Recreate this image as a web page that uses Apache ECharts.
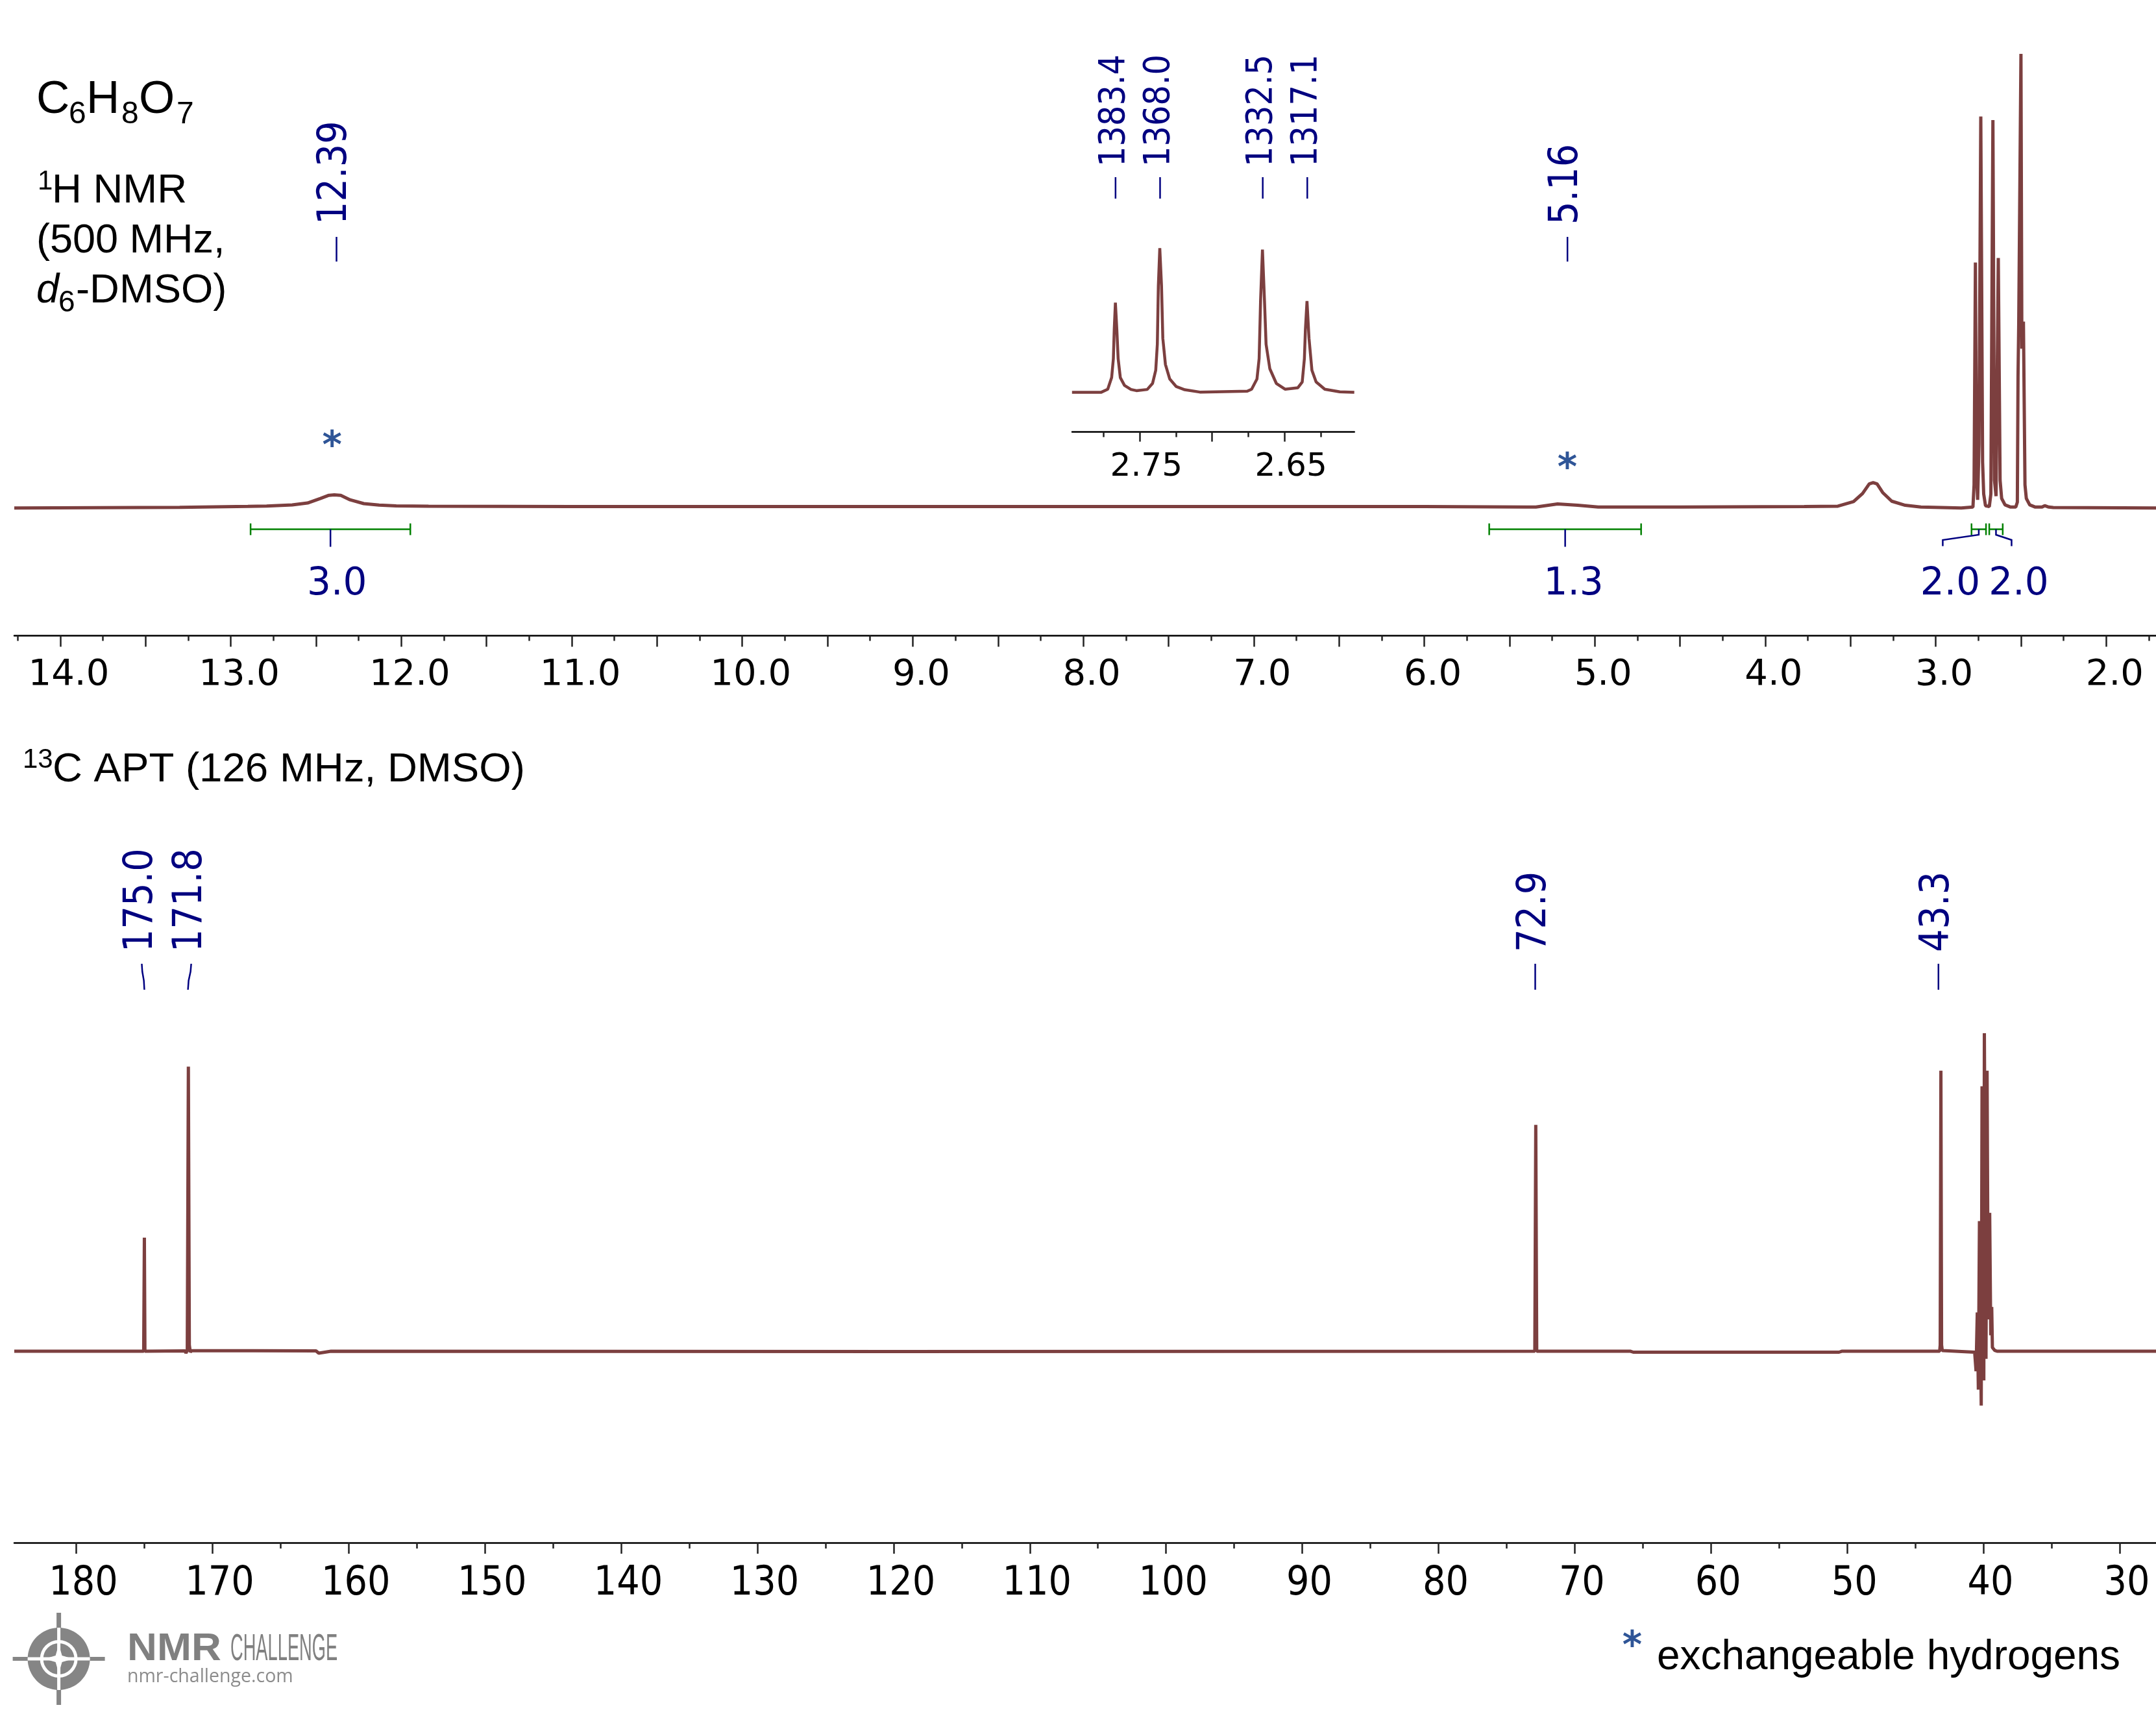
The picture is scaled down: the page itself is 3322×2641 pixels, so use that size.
<!DOCTYPE html>
<html>
<head>
<meta charset="utf-8">
<title>C6H8O7 NMR</title>
<style>
  html, body { margin: 0; padding: 0; background: #fff; }
  #echart { width: 3322px; height: 2641px; }
</style>
<script src="https://cdn.jsdelivr.net/npm/echarts@6/dist/echarts.min.js"></script>
</head>
<body>
<div id="echart"></div>
<script>
// 1H spectrum (ppm / intensity, DMSO = 100)
var hPpm = [14.27,13.3,12.9,12.79,12.64,12.55,12.475,12.425,12.393,12.355,12.30,12.22,12.13,12.03,11.84,
  11,8,6,5.4,5.345,5.218,5.1,4.98,4.5,3.771,
  3.574,3.482,3.429,3.390,3.367,3.344,3.311,3.258,3.179,3.087,
  2.85,2.7817,2.7751,2.7672,2.7607,2.7541,2.7462,2.7357,2.7251,2.7186,
  2.7081,2.6857,2.6765,2.6646,2.6554,2.6462,2.6330,2.6225,2.6133,2.5936,
  2.5607,2.5304,2.5212,2.5172,2.5133,2.5001,2.4948,2.4856,2.4765,2.4686,
  2.4489,2.416,2.3765,2.3607,2.337,2.3106,1.708];
var hIntensity = [-0.1,0.05,0.25,0.33,0.57,1,2,2.7,2.8,2.7,1.7,0.86,0.53,0.35,0.3,
  0.2,0.2,0.2,0.1,0.1,0.8,0.5,0.1,0.1,0.2,
  0.3,1.3,3.1,5.2,5.5,5.2,3.3,1.4,0.5,0.1,
  -0.1,0.1,5,54,8,1.7,14,86.2,10,3,
  0.4,0.2,3,85.4,6,2.5,55,6,2,0.6,
  0.1,0.1,1.2,29,40,100,35,41,5,2,
  0.6,0.1,0.1,0.4,0.1,0,-0.1];

// inset, the two doublets
var insetPpm = [2.7969,2.7769,2.7722,2.7695,2.7683,2.7677,2.7669,2.7659,2.7650,2.7635,2.7606,2.7561,2.7524,
  2.7449,2.7412,2.7390,2.7379,2.7372,2.7362,2.7350,2.7341,2.7323,2.7293,2.7248,2.7189,2.7085,
  2.6757,2.6727,2.6690,2.6675,2.6665,2.6652,2.6638,2.6627,2.6601,2.6556,2.6496,
  2.6407,2.6377,2.6362,2.6355,2.6344,2.6330,2.6310,2.6281,2.6221,2.6117,2.6017];
var insetIntensity = [0,0,2.2,10.2,23.3,43.4,62,43.4,23.3,10.2,4.8,2,1.2,
  2,6.2,15.3,33.3,73.5,99.6,73.5,37.3,19.3,9.2,4,1.8,0.2,
  0.8,2.2,9.2,23.3,63.5,98.6,63.5,33.3,16.3,6.2,2.2,
  3.2,7.2,23.3,43.4,63.1,37.3,15.3,7.2,2.2,0.4,0];

// 13C APT, DMSO = 100 (septet swings negative)
var cPpm = [184.55,175.15,175.1,175.05,175.0,174.96,174.9,172.0,171.95,171.85,171.77,171.7,171.63,171.55,
  162.4,162.2,161.3,120,72.93,72.86,72.79,65.9,65.7,50.6,50.4,43.21,43.17,43.12,43.07,43.02,
  40.64,40.54,40.45,40.37,40.29,40.16,40.10,39.97,39.93,39.81,39.73,39.65,39.54,39.46,39.39,39.34,39.18,39.0,27.33];
var cIntensity = [0,0,-0.4,0,35.7,0,0.1,0.1,-0.6,0.3,89.5,2,-0.3,0.2,
  0.1,-0.6,0,-0.1,0,71.2,0,0,-0.3,-0.3,0,0,2,88.2,2,0.2,
  -0.3,-6.3,12.2,-12.1,40.9,-17.1,83.3,-9.2,100,-2.4,88.2,10,43.5,5,13.9,1.2,0.3,0,0];

// axis ticks
var hMajorTicks = [14,13.5,13,12.5,12,11.5,11,10.5,10,9.5,9,8.5,8,7.5,7,6.5,6,5.5,5,4.5,4,3.5,3,2.5,2];
var hMinorTicks = [14.25,13.75,13.25,12.75,12.25,11.75,11.25,10.75,10.25,9.75,9.25,8.75,8.25,7.75,7.25,6.75,6.25,5.75,5.25,4.75,4.25,3.75,3.25,2.75,2.25,1.75];
var hTickLabels = [14,13,12,11,10,9,8,7,6,5,4,3,2];
var insetMajorTicks = [2.75,2.70,2.65];
var insetMinorTicks = [2.775,2.725,2.675,2.625];
var insetTickLabels = [2.75,2.65];
var cMajorTicks = [180,170,160,150,140,130,120,110,100,90,80,70,60,50,40,30];
var cMinorTicks = [175,165,155,145,135,125,115,105,95,85,75,65,55,45,35];

// peak picks and integrals
var hPickPpm = [12.38,5.16];
var hPickLabels = ['12.39','5.16'];
var hzPickPpm = [2.7668,2.736,2.665,2.6342];
var hzPickLabels = ['1383.4','1368.0','1332.5','1317.1'];
var cPickPpm = [175.0,171.8,72.9,43.3];
var cPickLabels = ['175.0','171.8','72.9','43.3'];
var integralFrom = [12.884,5.619,2.790,2.686];
var integralTo = [11.947,4.728,2.705,2.607];
var integralLabels = ['3.0','1.3','2.0','2.0'];

var SPEC = '#7c3f3f', NAVY = '#000080', GREEN = '#008000', STAR = '#2f5597', GREY = '#858585';
var ARIAL = '"Liberation Sans"', COND = '"DejaVu Sans Condensed","DejaVu Sans"', DEJA = '"DejaVu Sans"';

function zip(xs, ys) {
  return xs.map(function(x, i) { return [x, ys[i]]; });
}

// text placed by its baseline
function txt(str, x, base, size, family, fill, extra) {
  var style = { text: str, font: (extra && extra.font || '') + ' ' + size + 'px ' + family, fill: fill || '#000',
    align: extra && extra.align || 'left', verticalAlign: 'middle' };
  return { type: 'text', silent: true, x: x, y: base - 0.29 * size, scaleX: extra && extra.scaleX || 1, style: style };
}

function xAxisOf(grid, min, max, major, labels, fmt, opt) {
  return {
    type: 'value', gridIndex: grid, position: 'bottom', inverse: true, min: min, max: max,
    splitLine: { show: false },
    axisLine: { onZero: false, lineStyle: { color: '#000', width: 2.5 } },
    axisTick: { show: true, customValues: major, length: opt.len, lineStyle: { color: '#222', width: 2.5 } },
    axisLabel: { show: true, customValues: labels, formatter: fmt, margin: opt.margin, color: '#000', fontFamily: opt.family,
      fontSize: opt.size, padding: [0, 0, 0, opt.shift * 2], hideOverlap: false }
  };
}
function minorAxisOf(grid, min, max, ticks, len) {
  return {
    type: 'value', gridIndex: grid, position: 'bottom', inverse: true, min: min, max: max,
    splitLine: { show: false },
    axisLine: { show: false, onZero: false },
    axisTick: { show: true, customValues: ticks, length: len, lineStyle: { color: '#222', width: 2.5 } },
    axisLabel: { show: false }
  };
}
function yAxisOf(grid, min, max) {
  return { type: 'value', gridIndex: grid, min: min, max: max, show: false };
}
function specLine(xi, yi, data, w, smooth) {
  return { type: 'line', xAxisIndex: xi, yAxisIndex: yi, data: data, showSymbol: false, symbol: 'none', sampling: null,
    smooth: smooth, silent: true, clip: false, lineStyle: { color: SPEC, width: w, join: 'bevel' } };
}

// rotated peak labels with their small ticks; bend = shift of the tick's upper end
function pickSeries(xi, yi, ppm, labels, cfg) {
  return {
    type: 'custom', xAxisIndex: xi, yAxisIndex: yi, silent: true, clip: false,
    data: zip(ppm, ppm.map(function() { return 0; })), encode: { x: 0, y: 1 },
    renderItem: function(params, api) {
      var i = params.dataIndex;
      var x = api.coord([api.value(0), 0])[0];
      var bend = cfg.bend ? cfg.bend[i] : 0;
      var pts = bend ? [[x + bend, cfg.y1], [x + bend * 0.8, cfg.y1 + 12], [x + bend * 0.2, cfg.y2 - 14], [x, cfg.y2]]
                     : [[x, cfg.y1], [x, cfg.y2]];
      return { type: 'group', children: [
        { type: 'polyline', shape: { points: pts }, style: { stroke: NAVY, lineWidth: 2.5, fill: null } },
        { type: 'text', x: x + bend + cfg.dx, y: cfg.textBottom, rotation: Math.PI / 2,
          style: { text: labels[i], font: cfg.size + 'px ' + COND, fill: NAVY, align: 'left', verticalAlign: 'middle' } }
      ] };
    }
  };
}

// link from the green integral bar down to its number, dx in px from the bar centre
var integralLink = [0, 0, -55.5, 24];
var integralText = [10, 13, -44, 35];
var integralSeries = {
  type: 'custom', xAxisIndex: 0, yAxisIndex: 0, silent: true, clip: false,
  data: integralFrom.map(function(f, i) { return [f, integralTo[i], 0]; }), encode: { x: [0, 1], y: 2 },
  renderItem: function(params, api) {
    var i = params.dataIndex;
    var a = api.coord([api.value(0), 0])[0], b = api.coord([api.value(1), 0])[0];
    var c = (a + b) / 2, dx = integralLink[i], y = 815.5;
    var green = { stroke: GREEN, lineWidth: 2.5, fill: null }, navy = { stroke: NAVY, lineWidth: 2.5, fill: null };
    var link = dx ? [[c, y], [c, y + 8.5], [c + dx, y + 16.5], [c + dx, y + 26]] : [[c, y], [c, y + 27]];
    return { type: 'group', children: [
      { type: 'line', shape: { x1: a, y1: y, x2: b, y2: y }, style: green },
      { type: 'line', shape: { x1: a, y1: y - 9, x2: a, y2: y + 9 }, style: green },
      { type: 'line', shape: { x1: b, y1: y - 9, x2: b, y2: y + 9 }, style: green },
      { type: 'polyline', shape: { points: link }, style: navy },
      txt(integralLabels[i], c + integralText[i], 918, 58, DEJA, NAVY, { align: 'center' })
    ] };
  }
};

// logo built from plain shapes
var lx = 90.6, ly = 2556;
function rect(x, y, w, h, fill) {
  return { type: 'rect', silent: true, shape: { x: x, y: y, width: w, height: h }, style: { fill: fill } };
}
function disc(r, fill) {
  return { type: 'circle', silent: true, shape: { cx: lx, cy: ly, r: r }, style: { fill: fill } };
}
var logo = [
  rect(19.6, ly - 3, 142, 6, GREY), rect(lx - 3.5, 2485, 7, 142, GREY),
  disc(48, GREY), disc(29, '#fff'), disc(24, GREY),
  rect(lx - 48, ly - 2.5, 96, 5, '#fff'), rect(lx - 2.5, ly - 48, 5, 96, '#fff'),
  { type: 'polygon', silent: true, style: { fill: '#fff' }, shape: { points: [[lx, ly - 22], [lx + 5, ly - 5], [lx + 22, ly], [lx + 5, ly + 5],
    [lx, ly + 22], [lx - 5, ly + 5], [lx - 22, ly], [lx - 5, ly - 5]] } },
  txt('NMR', 196, 2559, 60, ARIAL, '#808080', { font: 'bold', scaleX: 1.06 }),
  txt('CHALLENGE', 355, 2559, 58, ARIAL, '#808080', { scaleX: 0.47 }),
  txt('nmr-challenge.com', 196, 2592, 28.5, '"Open Sans"', '#8c8c8c')
];

var notes = [
  txt('C', 56, 175, 71, ARIAL), txt('6', 106, 191, 48, ARIAL), txt('H', 133, 175, 71, ARIAL),
  txt('8', 187, 191, 48, ARIAL), txt('O', 214, 175, 71, ARIAL), txt('7', 272, 191, 48, ARIAL),
  txt('1', 58, 293, 42, ARIAL), txt('H NMR', 80, 312.5, 63.5, ARIAL),
  txt('(500 MHz,', 56, 389.5, 63, ARIAL),
  txt('d', 56, 466.5, 63, ARIAL, '#000', { font: 'italic' }), txt('6', 90, 481, 46, ARIAL), txt('-DMSO)', 117, 466.5, 63.4, ARIAL),
  txt('13', 35, 1184, 42, ARIAL), txt('C APT (126 MHz, DMSO)', 81, 1205, 63.6, ARIAL),
  txt('*', 511.7, 707, 58, DEJA, STAR, { font: 'bold', align: 'center' }),
  txt('*', 2415, 741, 58, DEJA, STAR, { font: 'bold', align: 'center' }),
  txt('*', 2515, 2556, 58, DEJA, STAR, { font: 'bold', align: 'center' }),
  txt('exchangeable hydrogens', 2553, 2573, 63.9, ARIAL)
];

var myChart = echarts.init(document.getElementById('echart'), null, { renderer: 'canvas' });
var oneDec = function(v) { return v.toFixed(1); };
var twoDec = function(v) { return v.toFixed(2); };
var noDec = function(v) { return v.toFixed(0); };

var option = {
  animation: false,
  backgroundColor: '#fff',
  grid: [
    { left: 22, width: 3300, top: 0, height: 979.5 },
    { left: 1652, width: 434.7, top: 340, height: 325.5 },
    { left: 22, width: 3300, top: 1300, height: 1077 }
  ],
  xAxis: [
    xAxisOf(0, 1.708, 14.27, hMajorTicks, hTickLabels, oneDec, { len: 17, margin: 33, family: DEJA, size: 56, shift: 13 }),
    minorAxisOf(0, 1.708, 14.27, hMinorTicks, 8),
    xAxisOf(1, 2.6017, 2.7968, insetMajorTicks, insetTickLabels, twoDec, { len: 15, margin: 30, family: DEJA, size: 50, shift: 10 }),
    minorAxisOf(1, 2.6017, 2.7968, insetMinorTicks, 8),
    xAxisOf(2, 27.33, 184.55, cMajorTicks, cMajorTicks, noDec, { len: 17, margin: 33, family: COND, size: 62, shift: 11 }),
    minorAxisOf(2, 27.33, 184.55, cMinorTicks, 9)
  ],
  yAxis: [ yAxisOf(0, -28.25, 111.87), yAxisOf(1, -27.3, 118.6), yAxisOf(2, -60.2, 159.6) ],
  series: [
    specLine(0, 0, zip(hPpm, hIntensity), 5, false),
    specLine(2, 1, zip(insetPpm, insetIntensity), 4.5, false),
    specLine(4, 2, zip(cPpm, cIntensity), 5, false),
    pickSeries(0, 0, hPickPpm, hPickLabels, { y1: 365, y2: 403, textBottom: 346, dx: -1.5, size: 62 }),
    pickSeries(2, 1, hzPickPpm, hzPickLabels, { y1: 273, y2: 306, textBottom: 257, dx: -1, size: 55 }),
    pickSeries(4, 2, cPickPpm, cPickLabels, { y1: 1485, y2: 1525, textBottom: 1467, dx: -1, size: 62, bend: [-4, 5, 0, 0] }),
    integralSeries
  ],
  graphic: { elements: notes.concat(logo) }
};

myChart.setOption(option);
</script>
</body>
</html>
